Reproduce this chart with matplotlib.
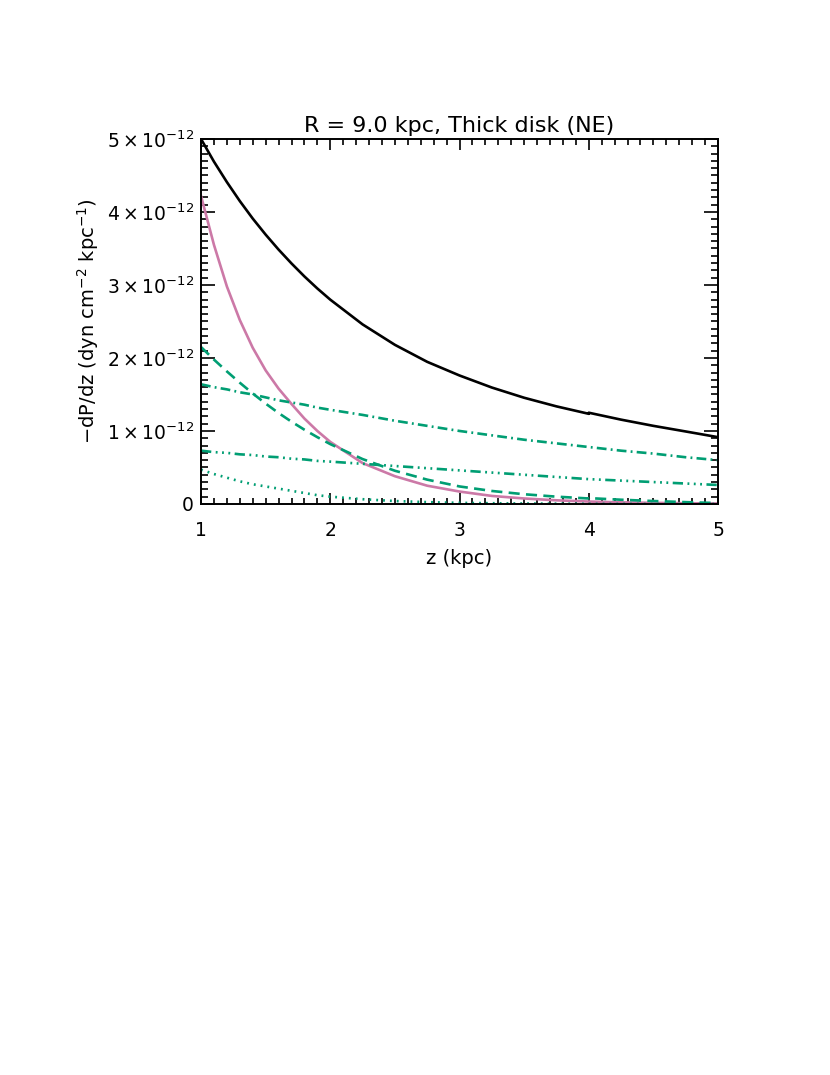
import numpy as np
import matplotlib
matplotlib.use("Agg")
import matplotlib.pyplot as plt
from matplotlib.ticker import MultipleLocator, FixedLocator

plt.rcParams['font.family'] = ['DejaVu Sans']
plt.rcParams['mathtext.default'] = 'regular'

z = [1.0, 1.1, 1.2, 1.3, 1.4, 1.5, 1.6, 1.7, 1.8, 1.9, 2.0,
     2.25, 2.5, 2.75, 3.0, 3.25, 3.5, 3.75, 4.0, 4.0, 4.25, 4.5, 4.75, 5.0]

# -dP/dz in units of 1e-12 dyn cm^-2 kpc^-1
total = [5.00, 4.69, 4.41, 4.15, 3.91, 3.69, 3.485, 3.295, 3.117, 2.952, 2.799,
         2.46, 2.18, 1.947, 1.76, 1.595, 1.455, 1.337, 1.235, 1.25, 1.155, 1.07, 0.993, 0.915]
pink = [4.22, 3.55, 2.98, 2.52, 2.14, 1.83, 1.58, 1.37, 1.17, 1.00, 0.85,
        0.56, 0.38, 0.25, 0.17, 0.11, 0.075, 0.05, 0.033, 0.033, 0.022, 0.015, 0.01, 0.007]
dashed = [2.15, 1.978, 1.816, 1.661, 1.514, 1.375, 1.246, 1.127, 1.017, 0.915, 0.82,
          0.615, 0.455, 0.333, 0.24, 0.178, 0.133, 0.10, 0.075, 0.08, 0.058, 0.04, 0.025, 0.012]
dashdot = [1.64, 1.60, 1.57, 1.53, 1.50, 1.46, 1.42, 1.39, 1.36, 1.32, 1.29,
           1.22, 1.14, 1.07, 1.00, 0.94, 0.88, 0.83, 0.78, 0.78, 0.73, 0.69, 0.64, 0.60]
dash3dot = [0.73, 0.71, 0.70, 0.68, 0.67, 0.65, 0.64, 0.62, 0.61, 0.59, 0.58,
            0.55, 0.52, 0.49, 0.46, 0.43, 0.40, 0.37, 0.34, 0.34, 0.32, 0.30, 0.28, 0.26]
dotted = [0.47, 0.41, 0.36, 0.31, 0.27, 0.24, 0.21, 0.18, 0.15, 0.12, 0.10,
          0.065, 0.04, 0.025, 0.015, 0.01, 0.006, 0.004, 0.002, 0.002, 0.001, 0.0, 0.0, 0.0]

ytick_vals = [0, 1, 2, 3, 4, 5]
ytick_labels = ['0'] + [r'$%d\times10^{-12}$' % v for v in ytick_vals[1:]]

green = '#009E73'
pinkc = '#CC79A7'
lw = 1.9

fig = plt.figure(figsize=(8.3, 10.75), dpi=100)
ax = fig.add_axes([0.2422, 0.5312, 0.6229, 0.3395])

sc = 1e-12
ax.plot(z, np.array(total) * sc, color='black', lw=lw)
ax.plot(z, np.array(pink) * sc, color=pinkc, lw=lw)
ax.plot(z, np.array(dashed) * sc, color=green, lw=lw, linestyle=(0, (4.2, 2.4)))
ax.plot(z, np.array(dashdot) * sc, color=green, lw=lw, linestyle=(0, (3.7, 1.6, 0.7, 1.6)))
ax.plot(z, np.array(dash3dot) * sc, color=green, lw=lw,
        linestyle=(0, (3.9, 1.7, 0.7, 1.7, 0.7, 1.7, 0.7, 1.7)))
ax.plot(z, np.array(dotted) * sc, color=green, lw=lw, linestyle=(0, (0.7, 1.9)))

ax.set_xlim(1, 5)
ax.set_ylim(0, 5e-12)
ax.xaxis.set_major_locator(MultipleLocator(1))
ax.xaxis.set_minor_locator(MultipleLocator(0.1))
ax.yaxis.set_major_locator(FixedLocator([v * sc for v in ytick_vals]))
ax.yaxis.set_minor_locator(MultipleLocator(0.1e-12))
ax.set_yticklabels(ytick_labels)

ax.tick_params(which='both', direction='in', top=True, right=True, labelsize=13.5, width=1.2)
ax.tick_params(axis='x', which='major', length=8, pad=12)
ax.tick_params(axis='x', which='minor', length=4)
ax.tick_params(axis='y', which='major', length=10, pad=5)
ax.tick_params(axis='y', which='minor', length=5)
for s in ax.spines.values():
    s.set_linewidth(1.4)

ax.set_title('R = 9.0 kpc, Thick disk (NE)', fontsize=16, pad=5)
ax.set_xlabel('z (kpc)', fontsize=14, labelpad=7)
ax.set_ylabel(r'$-$dP/dz (dyn cm$^{-2}$ kpc$^{-1}$)', fontsize=14, labelpad=4)

fig.savefig('out.png', dpi=100)
